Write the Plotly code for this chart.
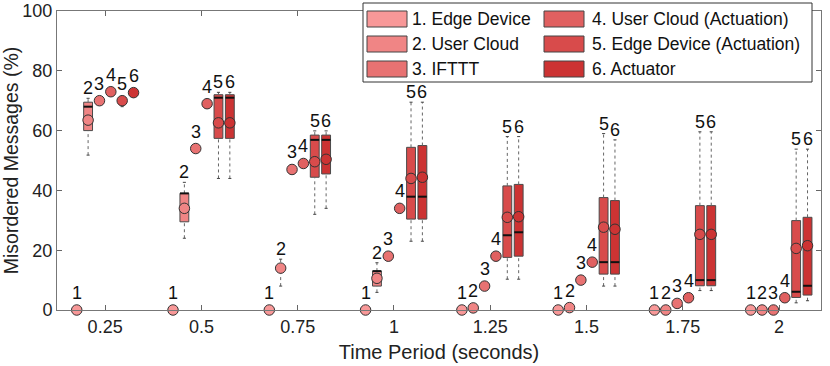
import plotly.graph_objects as go

# time periods (x categories)
periods = ['0.25', '0.5', '0.75', '1', '1.25', '1.5', '1.75', '2']
names = ['1. Edge Device', '2. User Cloud', '3. IFTTT',
         '4. User Cloud (Actuation)', '5. Edge Device (Actuation)', '6. Actuator']
colors = ['#F89898', '#F08585', '#E87272', '#E06060', '#D84B4B', '#CC3333']

# one row per series, one column per time period (values in %)
means = [
    [0, 0, 0, 0, 0, 0, 0, 0],
    [63.5, 34, 14, 10.6, 0.7, 0.8, 0, 0],
    [70, 54, 47, 18, 8, 10, 2.2, 0],
    [73, 69, 49, 34, 18, 16, 4.1, 4.1],
    [70, 62.6, 49.6, 44, 31, 27.7, 25.3, 20.6],
    [72.7, 62.6, 50.4, 44.4, 31.2, 27, 25.3, 21.5],
]
q1 = [
    means[0],
    [60, 29.5, 14, 8, 0.7, 0.8, 0, 0],
    means[2],
    means[3],
    [70, 57.4, 44.4, 30.4, 17.6, 12, 8.1, 4.2],
    [72.7, 57.4, 45.5, 30.4, 18, 12, 8.1, 5],
]
medians = [
    means[0],
    [68, 39, 14, 13, 0.7, 0.8, 0, 0],
    means[2],
    means[3],
    [70, 71, 56.9, 37.9, 25, 16, 10, 6.1],
    [72.7, 71, 56.9, 37.9, 26, 16, 10, 8.1],
]
q3 = [
    means[0],
    [69.5, 39, 14, 13, 0.7, 0.8, 0, 0],
    means[2],
    means[3],
    [70, 72, 58.5, 54.4, 41.5, 37.6, 34.9, 29.9],
    [72.7, 72, 58.5, 55, 42, 36.6, 34.9, 31],
]
whisk_lo = [
    means[0],
    [51.8, 24, 8, 5.9, 0.7, 0.8, 0, 0],
    means[2],
    means[3],
    [68, 44, 32, 23, 10.3, 8, 6.5, 2.4],
    [72.7, 44, 34, 23, 10.3, 8, 6.5, 3.1],
]
whisk_hi = [
    means[0],
    [70.8, 42.7, 17, 15.8, 0.7, 0.8, 0, 0],
    means[2],
    means[3],
    [70, 72.8, 59.9, 69.5, 58, 59, 59.6, 53.8],
    [72.7, 72.8, 59.9, 69.5, 58, 56.9, 59.6, 53.8],
]

step = 0.118
bw = 0.046
cap = 0.016
FONT = 'Liberation Sans, Arial'

fig = go.Figure()
annos = []

# boxes
for i in range(6):
    xs, base, h = [], [], []
    for g in range(8):
        if q3[i][g] > q1[i][g]:
            xs.append(g + (i - 2.5) * step)
            base.append(q1[i][g])
            h.append(q3[i][g] - q1[i][g])
    fig.add_trace(go.Bar(x=xs, y=h, base=base, width=2 * bw,
                         marker=dict(color=colors[i], line=dict(color='#4a4a4a', width=1)),
                         showlegend=False, hoverinfo='skip'))

# whiskers, caps, medians
for i in range(6):
    wx, wy, cx, cy, mx, my = [], [], [], [], [], []
    for g in range(8):
        x = g + (i - 2.5) * step
        if whisk_hi[i][g] > q3[i][g]:
            wx += [x, x, None]
            wy += [q3[i][g], whisk_hi[i][g], None]
            cx += [x - cap, x + cap, None]
            cy += [whisk_hi[i][g], whisk_hi[i][g], None]
        if whisk_lo[i][g] < q1[i][g]:
            wx += [x, x, None]
            wy += [whisk_lo[i][g], q1[i][g], None]
            cx += [x - cap, x + cap, None]
            cy += [whisk_lo[i][g], whisk_lo[i][g], None]
        if q3[i][g] > q1[i][g]:
            mx += [x - bw, x + bw, None]
            my += [medians[i][g], medians[i][g], None]
    fig.add_trace(go.Scatter(x=wx, y=wy, mode='lines', showlegend=False, hoverinfo='skip',
                             line=dict(color='#666', width=1, dash='dot')))
    fig.add_trace(go.Scatter(x=cx, y=cy, mode='lines', showlegend=False, hoverinfo='skip',
                             line=dict(color='#444', width=1)))
    fig.add_trace(go.Scatter(x=mx, y=my, mode='lines', showlegend=False, hoverinfo='skip',
                             line=dict(color='#111', width=2)))

# means + number labels
for i in range(6):
    xs = [g + (i - 2.5) * step for g in range(8)]
    fig.add_trace(go.Scatter(x=xs, y=means[i], mode='markers', showlegend=False,
                             cliponaxis=False, hoverinfo='skip',
                             marker=dict(size=10.5, color=colors[i], line=dict(color='#333', width=1))))
    for g in range(8):
        top = max(whisk_hi[i][g], means[i][g])
        shift = -2 if whisk_hi[i][g] > means[i][g] else 5
        annos.append(dict(x=xs[g], y=top, text=str(i + 1), showarrow=False, xref='x', yref='y',
                          yanchor='bottom', yshift=shift,
                          font=dict(size=18, color='#111', family=FONT)))

# legend drawn by hand (two columns, column-major like the original)
W, H = 830, 366
L, R, T, B = 57, 9, 11, 56


def px(x):
    return (x - L) / (W - L - R)


def py(y):
    return (H - B - y) / (H - T - B)


shapes = [dict(type='rect', xref='paper', yref='paper', x0=px(363), x1=px(812), y0=py(3), y1=py(82),
               fillcolor='white', line=dict(color='#333', width=1), layer='above')]
rows = [19, 44, 69]
cols = [(367, 410), (544, 590)]
for i in range(6):
    sx, tx = cols[i // 3]
    ry = rows[i % 3]
    shapes.append(dict(type='rect', xref='paper', yref='paper', x0=px(sx), x1=px(sx + 40),
                       y0=py(ry - 8), y1=py(ry + 8), fillcolor=colors[i],
                       line=dict(color='#444', width=1), layer='above'))
    annos.append(dict(x=px(tx), y=py(ry), xref='paper', yref='paper', text=names[i],
                      showarrow=False, xanchor='left', yanchor='middle',
                      font=dict(size=17.5, color='#111', family=FONT)))

fig.update_layout(
    width=W, height=H,
    margin=dict(l=L, r=R, t=T, b=B),
    plot_bgcolor='white', paper_bgcolor='white',
    barmode='overlay', showlegend=False, hovermode=False,
    shapes=shapes, annotations=annos,
    font=dict(family=FONT, color='#222'),
    xaxis=dict(range=[-0.5, 7.435], tickvals=list(range(8)), ticktext=periods,
               ticks='inside', ticklen=5, tickcolor='#666', showline=True, linecolor='#777',
               mirror='ticks', showgrid=False, zeroline=False, automargin=False,
               tickfont=dict(size=18),
               title=dict(text='Time Period (seconds)', font=dict(size=20), standoff=9)),
    yaxis=dict(range=[0, 100], dtick=20, ticks='inside', ticklen=5, tickcolor='#666',
               showline=True, linecolor='#777', mirror='ticks', showgrid=False, zeroline=False,
               automargin=False, tickfont=dict(size=18),
               title=dict(text='Misordered Messages (%)', font=dict(size=19.5), standoff=2)),
)

# the page's default body margin would shift the whole figure by 8px
fig.write_html("out.html", config={'displayModeBar': False},
               post_script="document.body.style.margin='0px';")
